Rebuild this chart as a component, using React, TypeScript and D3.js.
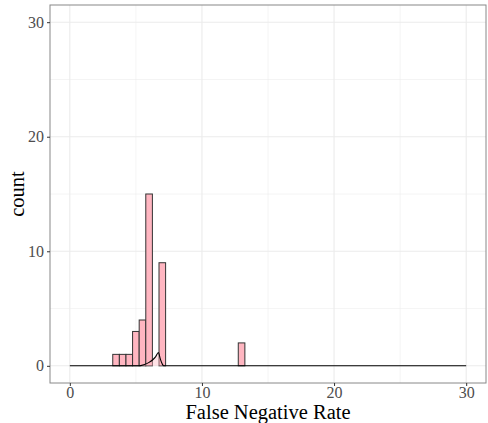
import React, { useEffect, useRef } from "react"
import * as d3 from "d3"

// histogram bins (binwidth 0.5), centres and counts
const binCentres = [3.5, 4, 4.5, 5, 5.5, 6, 6.5, 7, 13]
const binCounts = [1, 1, 1, 3, 4, 15, 0, 9, 2]
const binWidth = 0.5

// density-like curve drawn over the bars
const curveX = [0, 5.2, 5.6, 6.0, 6.3, 6.5, 6.7, 6.85, 7.0, 7.1, 30]
const curveY = [0, 0, 0.1, 0.3, 0.55, 0.8, 1.16, 0.6, 0.15, 0, 0]

const xTicks = [0, 10, 20, 30]
const yTicks = [0, 10, 20, 30]
const xMinor = [5, 15, 25]
const yMinor = [5, 15, 25]

const W = 488
const H = 423

export default function App() {
  const ref = useRef<SVGSVGElement>(null)

  useEffect(() => {
    const svg = d3.select(ref.current)
    svg.selectAll("*").remove()

    const left = 50, right = 486, top = 5, bottom = 383
    const x = d3.scaleLinear().domain([-1.5, 31.5]).range([left, right])
    const y = d3.scaleLinear().domain([-1.5, 31.5]).range([bottom, top])

    svg.append("rect").attr("x", 0).attr("y", 0).attr("width", W).attr("height", H).attr("fill", "white")

    const grid = svg.append("g")
    xMinor.forEach(v => grid.append("line").attr("x1", x(v)).attr("x2", x(v)).attr("y1", top).attr("y2", bottom)
      .attr("stroke", "#EBEBEB").attr("stroke-width", 0.55))
    yMinor.forEach(v => grid.append("line").attr("y1", y(v)).attr("y2", y(v)).attr("x1", left).attr("x2", right)
      .attr("stroke", "#EBEBEB").attr("stroke-width", 0.55))
    xTicks.forEach(v => grid.append("line").attr("x1", x(v)).attr("x2", x(v)).attr("y1", top).attr("y2", bottom)
      .attr("stroke", "#EBEBEB").attr("stroke-width", 1.1))
    yTicks.forEach(v => grid.append("line").attr("y1", y(v)).attr("y2", y(v)).attr("x1", left).attr("x2", right)
      .attr("stroke", "#EBEBEB").attr("stroke-width", 1.1))

    // bars
    svg.append("g").selectAll("rect")
      .data(binCentres.map((c, i) => ({ c, n: binCounts[i] })).filter(d => d.n > 0))
      .enter()
      .append("rect")
      .attr("x", d => x(d.c - binWidth / 2))
      .attr("width", d => x(d.c + binWidth / 2) - x(d.c - binWidth / 2))
      .attr("y", d => y(d.n))
      .attr("height", d => y(0) - y(d.n))
      .attr("fill", "#FFB6C1")
      .attr("stroke", "#333333")
      .attr("stroke-width", 1)

    const pts = curveX.map((v, i) => [v, curveY[i]] as [number, number])
    const area = d3.area<[number, number]>().x(d => x(d[0])).y0(y(0)).y1(d => y(d[1]))
    svg.append("path").attr("d", area(pts)).attr("fill", "#FFB6C1").attr("fill-opacity", 0.4)
    const line = d3.line<[number, number]>().x(d => x(d[0])).y(d => y(d[1])).curve(d3.curveMonotoneX)
    svg.append("path").attr("d", line(pts)).attr("fill", "none").attr("stroke", "black").attr("stroke-width", 1.1)

    // panel border
    svg.append("rect").attr("x", left).attr("y", top).attr("width", right - left).attr("height", bottom - top)
      .attr("fill", "none").attr("stroke", "#888888").attr("stroke-width", 1)

    const font = "'Liberation Serif', 'DejaVu Serif', serif"
    const xAxis = d3.axisBottom(x).tickValues(xTicks).tickSize(3).tickPadding(1)
    const gx = svg.append("g").attr("transform", `translate(0,${bottom})`).call(xAxis)
    const yAxis = d3.axisLeft(y).tickValues(yTicks).tickSize(3).tickPadding(3)
    const gy = svg.append("g").attr("transform", `translate(${left},0)`).call(yAxis)
    ;[gx, gy].forEach(g => {
      g.select(".domain").remove()
      g.selectAll("line").attr("stroke", "#333333")
      g.selectAll("text").attr("fill", "#4D4D4D").style("font-family", font).style("font-size", "16px")
    })

    svg.append("text").attr("x", (left + right) / 2).attr("y", 419).attr("text-anchor", "middle")
      .style("font-family", font).style("font-size", "20.5px").attr("fill", "black").text("False Negative Rate")
    svg.append("text").attr("transform", `translate(24,${(top + bottom) / 2}) rotate(-90)`).attr("text-anchor", "middle")
      .style("font-family", font).style("font-size", "20.5px").attr("fill", "black").text("count")
  }, [])

  return (
    <div style={{ position: "fixed", left: 0, top: 0 }}>
      <svg ref={ref} width={W} height={H} style={{ display: "block" }} />
    </div>
  )
}
